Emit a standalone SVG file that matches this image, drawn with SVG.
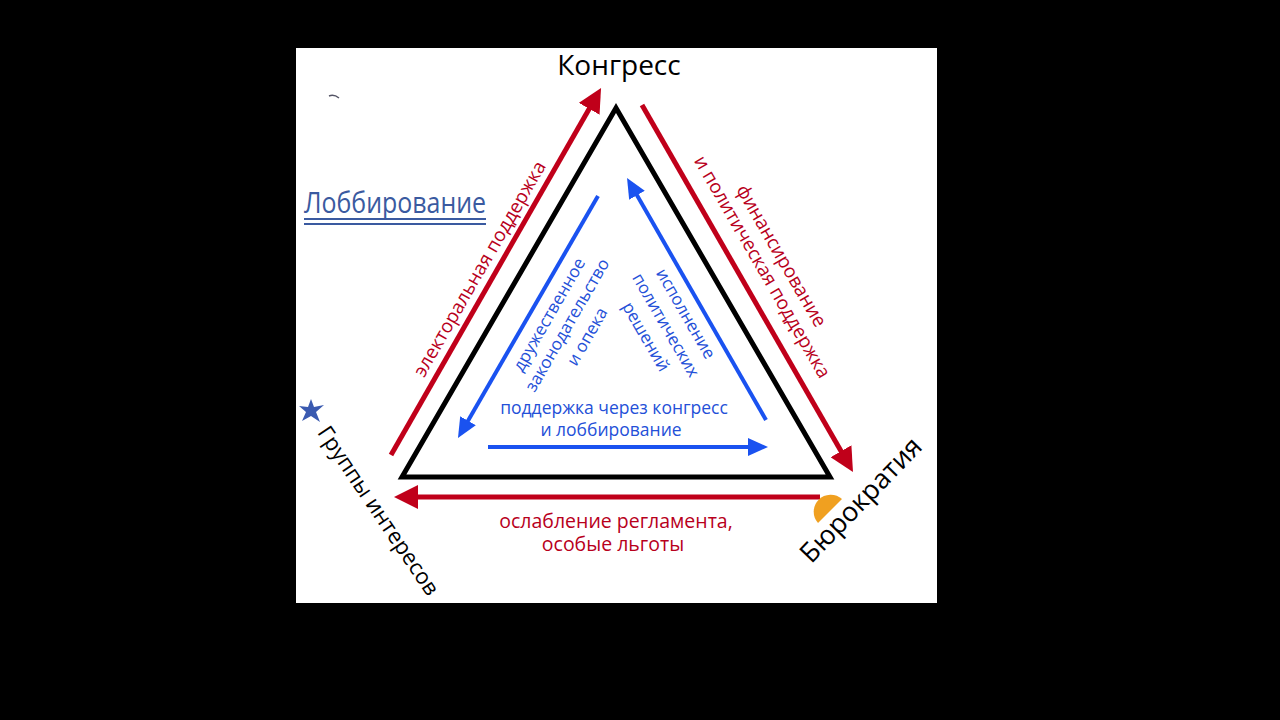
<svg xmlns="http://www.w3.org/2000/svg" width="1280" height="720" viewBox="0 0 1280 720">
<defs>
<style>
.t{font-family:"Open Sans","Noto Sans","DejaVu Sans",sans-serif}
.red{fill:#b8001c}
.blue{fill:#2450d8}
.blk{fill:#000}
.ra{stroke:#c0001a;stroke-width:5;fill:none}
.ba{stroke:#1a52f0;stroke-width:4;fill:none}
</style>
<marker id="mr" markerUnits="userSpaceOnUse" markerWidth="24" markerHeight="24" refX="8" refY="12" orient="auto"><path d="M0,0 L24,12 L0,24 z" fill="#c0001a"/></marker>
<marker id="mb" markerUnits="userSpaceOnUse" markerWidth="20" markerHeight="18" refX="6" refY="9" orient="auto"><path d="M0,0 L20,9 L0,18 z" fill="#1a52f0"/></marker>
</defs>
<rect width="1280" height="720" fill="#000"/>
<rect x="296" y="48" width="641" height="555" fill="#fff"/>

<g id="triangle">
<polygon points="616,108 402,477 830,477" fill="none" stroke="#000" stroke-width="5" stroke-linejoin="miter"/>
</g>

<g id="connectors">
<line class="ra" x1="391" y1="455" x2="593.1" y2="101.9" marker-end="url(#mr)"/>
<line class="ra" x1="642" y1="105" x2="845" y2="458.1" marker-end="url(#mr)"/>
<line class="ra" x1="820" y1="497" x2="410" y2="497" marker-end="url(#mr)"/>
<line class="ba" x1="598" y1="196" x2="465" y2="425.9" marker-end="url(#mb)"/>
<line class="ba" x1="766" y1="420" x2="634" y2="190.1" marker-end="url(#mb)"/>
<line class="ba" x1="488" y1="447" x2="754" y2="447" marker-end="url(#mb)"/>
</g>

<g id="congress">
<text class="t blk" x="619" y="75" font-size="28" text-anchor="middle">Конгресс</text>
</g>
<g id="groups">
<text class="t blk" font-size="22" text-anchor="middle" transform="translate(378,511) rotate(56)" y="7">Группы интересов</text>
<path d="M311,399 L314,407 L324,405 L316,412 L320,422 L311,416 L302,421 L306,412 L299,406 L308,407 z" fill="#3a5ab0"/>
</g>
<g id="bureaucracy">
<path d="M818,523 A17,17 0 0 1 842,499 z" fill="#f0a020"/>
<text class="t blk" font-size="27" text-anchor="middle" transform="translate(861,500) rotate(-46)" y="9">Бюрократия</text>
</g>
<g id="lobbying">
<text class="t" x="304" y="213" font-size="30" textLength="182" lengthAdjust="spacingAndGlyphs" fill="#3a5aa0">Лоббирование</text>
<line x1="304" y1="219" x2="486" y2="219" stroke="#3a5aa0" stroke-width="2"/>
<line x1="304" y1="224" x2="486" y2="224" stroke="#3a5aa0" stroke-width="2"/>
<path d="M329,96 Q334,94 339,98" stroke="#556" stroke-width="1.5" fill="none"/>
</g>

<g id="labels-red">
<text class="t red" font-size="19" text-anchor="middle" transform="translate(480,269) rotate(-60)" y="6">электоральная поддержка</text>
<g transform="translate(771.5,261.5) rotate(60)">
<text class="t red" font-size="19" text-anchor="middle" y="-5">финансирование</text>
<text class="t red" font-size="19" text-anchor="middle" y="17">и политическая поддержка</text>
</g>
<text class="t red" font-size="19.5" text-anchor="middle" x="616" y="528">ослабление регламента,</text>
<text class="t red" font-size="19.5" text-anchor="middle" x="613" y="551">особые льготы</text>
</g>

<g id="labels-blue">
<g transform="translate(567,325) rotate(-60)">
<text class="t blue" font-size="17" text-anchor="middle" y="-15">дружественное</text>
<text class="t blue" font-size="17" text-anchor="middle" y="6">законодательство</text>
<text class="t blue" font-size="17" text-anchor="middle" y="29">и опека</text>
</g>
<g transform="translate(666,325) rotate(60)">
<text class="t blue" font-size="17" text-anchor="middle" y="-17">исполнение</text>
<text class="t blue" font-size="17" text-anchor="middle" y="6">политических</text>
<text class="t blue" font-size="17" text-anchor="middle" y="29">решений</text>
</g>
<text class="t blue" font-size="17.5" text-anchor="middle" x="614" y="414">поддержка через конгресс</text>
<text class="t blue" font-size="17.5" text-anchor="middle" x="611" y="436">и лоббирование</text>
</g>
</svg>
